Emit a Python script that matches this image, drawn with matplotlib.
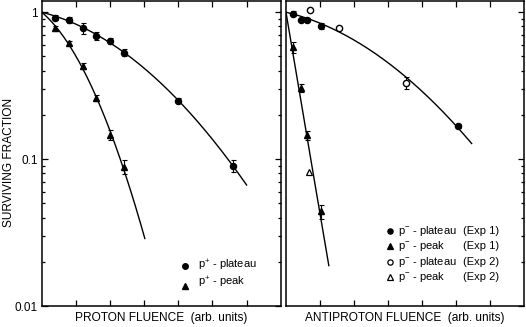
import numpy as np
import matplotlib.pyplot as plt

plt.rcParams['font.family'] = ['Liberation Sans', 'DejaVu Sans']
plt.rcParams['mathtext.fontset'] = 'custom'
plt.rcParams['mathtext.rm'] = 'Liberation Sans'
plt.rcParams['font.size'] = 8

# proton data (fluence in arb. units, surviving fraction)
p_plat_x = [0.4, 0.8, 1.2, 1.6, 2.0, 2.4, 4.0, 5.6]
p_plat_y = [0.92, 0.89, 0.78, 0.69, 0.64, 0.53, 0.25, 0.090]
p_plat_err = [0.03, 0.04, 0.07, 0.04, 0.03, 0.03, 0.01, 0.008]
p_peak_x = [0.4, 0.8, 1.2, 1.6, 2.0, 2.4]
p_peak_y = [0.78, 0.62, 0.43, 0.26, 0.146, 0.089]
p_peak_err = [0.03, 0.02, 0.02, 0.012, 0.012, 0.01]

# antiproton data
ap_plat1_x = [0.21, 0.43, 0.63, 1.04, 5.06]
ap_plat1_y = [0.98, 0.89, 0.89, 0.81, 0.169]
ap_plat1_err = [0.04, 0.02, 0.02, 0.04, 0.005]
ap_peak1_x = [0.21, 0.43, 0.63, 1.02]
ap_peak1_y = [0.58, 0.307, 0.145, 0.044]
ap_peak1_err = [0.05, 0.02, 0.01, 0.005]
ap_plat2_x = [0.70, 1.55, 3.54]
ap_plat2_y = [1.03, 0.78, 0.33]
ap_plat2_err = [0.0, 0.0, 0.03]
ap_peak2_x = [0.68]
ap_peak2_y = [0.082]

# how far the fitted curves are drawn
fit_end = {'p_plat': 6.0, 'p_peak': 3.02, 'ap_plat': 5.46, 'ap_peak': 1.26}


def lq_fit(x, y, xmax):
    # linear-quadratic: ln S = -a D - b D^2
    x = np.array(x)
    A = np.column_stack([x, x ** 2])
    coef = np.linalg.lstsq(A, -np.log(y), rcond=None)[0]
    xs = np.linspace(0, xmax, 200)
    return xs, np.exp(-coef[0] * xs - coef[1] * xs ** 2)


fig = plt.figure(figsize=(5.26, 3.27), dpi=100)
ax1 = fig.add_axes([0.0793, 0.0642, 0.4544, 0.934])
ax2 = fig.add_axes([0.5437, 0.0642, 0.4525, 0.934])

eb = dict(ls='none', color='black', ecolor='black', elinewidth=0.8, capsize=1.8, capthick=0.8)

# left panel
ax1.plot(*lq_fit(p_plat_x, p_plat_y, fit_end['p_plat']), color='black', lw=1.0)
ax1.plot(*lq_fit(p_peak_x, p_peak_y, fit_end['p_peak']), color='black', lw=1.0)
ax1.errorbar(p_plat_x, p_plat_y, yerr=p_plat_err, marker='o', ms=4.4, **eb)
ax1.errorbar(p_peak_x, p_peak_y, yerr=p_peak_err, marker='^', ms=4.6, **eb)

# right panel
ax2.plot(*lq_fit(ap_plat1_x + ap_plat2_x, ap_plat1_y + ap_plat2_y, fit_end['ap_plat']), color='black', lw=1.0)
ax2.plot(*lq_fit(ap_peak1_x + ap_peak2_x, ap_peak1_y + ap_peak2_y, fit_end['ap_peak']), color='black', lw=1.0)
ax2.errorbar(ap_plat1_x, ap_plat1_y, yerr=ap_plat1_err, marker='o', ms=4.4, **eb)
ax2.errorbar(ap_peak1_x, ap_peak1_y, yerr=ap_peak1_err, marker='^', ms=4.6, **eb)
ax2.errorbar(ap_plat2_x, ap_plat2_y, yerr=ap_plat2_err, marker='o', ms=4.5, mfc='white', **eb)
ax2.plot(ap_peak2_x, ap_peak2_y, ls='none', marker='^', ms=5, mfc='white', mec='black', mew=0.9)

for ax in (ax1, ax2):
    ax.set_yscale('log')
    ax.set_ylim(0.01, 1.2)
    ax.set_xlim(0, 7)
    ax.set_xticks(range(1, 7))
    ax.set_xticklabels([])
    for s in ax.spines.values():
        s.set_linewidth(1.1)
    ax.tick_params(axis='x', which='both', direction='in', top=True, bottom=True, length=4.5, width=0.9)
    ax.tick_params(axis='y', which='major', direction='in', length=4.5, width=0.9)
    ax.tick_params(axis='y', which='minor', direction='in', length=2.3, width=0.9)

ax1.tick_params(axis='y', which='both', left=True, right=True, pad=3, labelsize=8.5)
ax1.set_yticks([0.01, 0.1, 1])
ax1.set_yticklabels(['0.01', '0.1', '1'])
ax2.tick_params(axis='y', which='both', left=False, right=True, labelleft=False)

ax1.set_ylabel('SURVIVING FRACTION', fontsize=8.6)
ax1.yaxis.set_label_coords(-0.11, 0.47)
ax1.set_xlabel('PROTON FLUENCE  (arb. units)', fontsize=8.6)
ax1.xaxis.set_label_coords(0.5, -0.02)
ax2.set_xlabel('ANTIPROTON FLUENCE  (arb. units)', fontsize=8.6)
ax2.xaxis.set_label_coords(0.5, -0.02)

# legends drawn by hand
ax1.plot([0.6], [0.131], transform=ax1.transAxes, marker='o', ms=4, color='black', clip_on=False)
ax1.plot([0.6], [0.066], transform=ax1.transAxes, marker='^', ms=4, color='black', clip_on=False)
ax1.text(0.655, 0.134, r'p$^{+}$ - plateau', transform=ax1.transAxes, va='center')
ax1.text(0.655, 0.079, r'p$^{+}$ - peak', transform=ax1.transAxes, va='center')

leg_y = [0.247, 0.197, 0.145, 0.094]
leg_mk = [('o', 'black'), ('^', 'black'), ('o', 'white'), ('^', 'white')]
leg_lab = ['plateau', 'peak', 'plateau', 'peak']
leg_exp = ['(Exp 1)', '(Exp 1)', '(Exp 2)', '(Exp 2)']
for yy, (m, fc), lab, ex in zip(leg_y, leg_mk, leg_lab, leg_exp):
    ax2.plot([0.435], [yy], transform=ax2.transAxes, marker=m, ms=3.8, mfc=fc, mec='black',
             mew=0.9, color='black', clip_on=False)
    ax2.text(0.47, yy, r'p$^{-}$ - ' + lab, transform=ax2.transAxes, va='center')
    ax2.text(0.745, yy, ex, transform=ax2.transAxes, va='center')

fig.savefig('out.png', dpi=100)
